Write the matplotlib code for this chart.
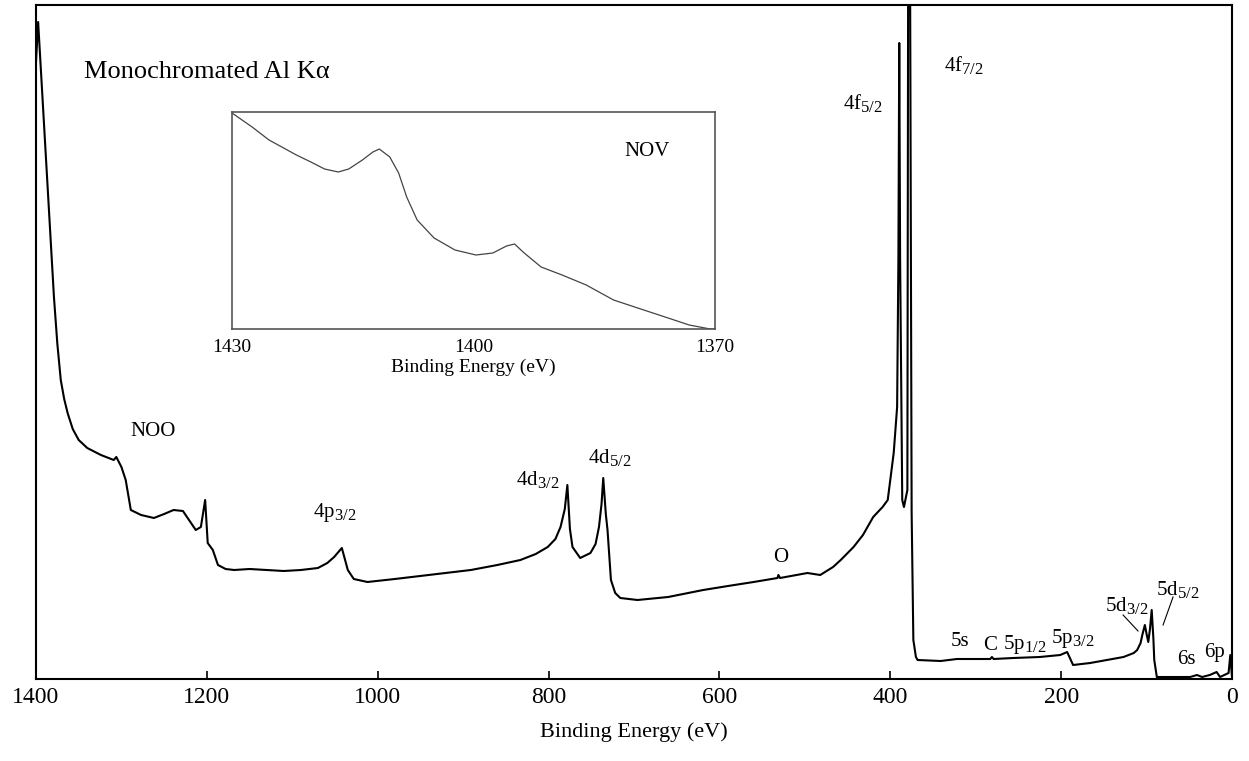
import matplotlib
matplotlib.use("Agg")
import matplotlib.pyplot as plt
import matplotlib._mathtext as _mt

plt.rcParams['font.family'] = ['Liberation Serif', 'DejaVu Serif']
plt.rcParams['mathtext.fontset'] = 'custom'
plt.rcParams['mathtext.rm'] = 'Liberation Serif'
plt.rcParams['mathtext.it'] = 'Liberation Serif:italic'
_mt.SHRINK_FACTOR = 0.8

# ---- main survey spectrum (binding energy eV, intensity arb. units) ----
energy = [1400, 1397.5, 1379, 1375, 1371, 1367, 1363, 1357, 1350, 1340, 1324, 1309, 1306,
          1300, 1295, 1289, 1277, 1262, 1250, 1239, 1228, 1213, 1207, 1202, 1199, 1193,
          1187, 1178, 1168, 1150, 1129, 1110, 1090, 1070, 1059, 1051, 1042, 1035, 1028,
          1012, 980, 950, 891, 860, 833, 815, 801, 792, 786, 781, 778, 775, 772, 763, 751,
          745, 741, 738, 736, 733, 731, 727, 722, 716, 696, 660, 619, 590, 560, 532, 531,
          529, 497, 482, 467, 458, 443, 432, 420, 409, 403, 400, 396, 392, 390.5, 389.5,
          388.5, 386, 384, 380, 379, 377, 375, 373, 370, 368, 341, 322, 283, 281, 279,
          256, 225, 201, 193, 186, 166, 127, 115, 111, 107, 105, 102, 100, 98, 96, 94,
          92, 91, 88, 49, 41, 35, 26, 18, 14, 4, 2, 0]
intensity = [617, 657, 382, 335, 299, 280, 266, 250, 239, 231, 224, 219, 222,
             212, 199, 169, 164, 161, 165, 169, 168, 149, 152, 179, 136, 129,
             114, 110, 109, 110, 109, 108, 109, 111, 116, 122, 131, 109, 100,
             97, 100, 103, 109, 114, 119, 125, 132, 140, 152, 170, 194, 150, 132, 121, 126,
             135, 152, 175, 201, 165, 149, 99, 86, 81, 79, 82, 89, 93, 97, 101, 104,
             101, 106, 104, 112, 119, 132, 144, 162, 172, 179, 199, 226, 272, 420, 636,
             420, 179, 172, 189, 760, 760, 166, 39, 22, 19, 18, 20, 20, 22, 20,
             21, 22, 24, 27, 14, 16, 22, 26, 29, 36, 44, 54, 45, 37, 50, 69,
             40, 19, 2, 2, 4, 2, 4, 7, 2, 6, 24, 2]

# ---- inset: NOV Auger region ----
inset_energy = [1430, 1427.5, 1425.4, 1422.0, 1420.2, 1418.5, 1416.8, 1415.5, 1413.8,
                1412.5, 1411.7, 1410.4, 1409.3, 1408.3, 1407.0, 1404.9, 1402.3, 1399.7,
                1397.6, 1395.9, 1394.9, 1393.7, 1391.6, 1389.0, 1386.0, 1382.6, 1379.6,
                1376.2, 1373.2, 1370.6, 1370]
inset_intensity = [216, 202, 189, 174, 167, 160, 157, 160, 169,
                   177, 180, 172, 156, 132, 109, 91, 79, 74,
                   76, 83, 85, 76, 62, 54, 44, 29, 21,
                   12, 4, 0, 0]

main_ticks = [1400, 1200, 1000, 800, 600, 400, 200, 0]
inset_ticks = [1430, 1400, 1370]

# peak labels: (text, energy, intensity, ha)
labels = [
    ("NOO", 1262.6, 247, 'center'),
    (r"4p$_{\mathrm{3/2}}$", 1076, 167, 'left'),
    (r"4d$_{\mathrm{3/2}}$", 838.6, 199, 'left'),
    (r"4d$_{\mathrm{5/2}}$", 754.4, 222, 'left'),
    ("O", 528.7, 122, 'center'),
    (r"4f$_{\mathrm{5/2}}$", 455, 576, 'left'),
    (r"4f$_{\mathrm{7/2}}$", 336.8, 614, 'left'),
    ("5s", 318, 37, 'center'),
    ("C", 283, 33, 'center'),
    (r"5p$_{\mathrm{1/2}}$", 267.8, 34, 'left'),
    (r"5p$_{\mathrm{3/2}}$", 211.7, 41, 'left'),
    (r"5d$_{\mathrm{3/2}}$", 148.5, 74, 'left'),
    (r"5d$_{\mathrm{5/2}}$", 88.9, 89, 'left'),
    ("6s", 53.8, 19, 'center'),
    ("6p", 19.9, 27, 'center'),
]

W, H = 1249, 761
fig = plt.figure(figsize=(W / 100, H / 100), dpi=100)
ax = fig.add_axes([36 / W, 1 - 679 / H, (1232 - 36) / W, (679 - 5) / H])
ax.plot(energy, intensity, color='black', lw=1.5)
ax.set_xlim(1400, 0)
ax.set_ylim(0, 674)
ax.set_xticks(main_ticks)
ax.set_xticklabels([str(t) for t in main_ticks])
ax.set_yticks([])
ax.tick_params(axis='x', direction='in', length=6, width=1.2, labelsize=17, pad=6)
for s in ax.spines.values():
    s.set_linewidth(1.5)
ax.set_xlabel("Binding Energy (eV)", fontsize=16, labelpad=10)

for txt, e, i, ha in labels:
    ax.text(e, i, txt, ha=ha, va='center', fontsize=15)

# leader lines for 5d peaks
ax.plot([127.5, 110], [64, 48], color='black', lw=0.8)
ax.plot([69, 80.7], [82, 54], color='black', lw=0.8)

ax.text(1344, 607, "Monochromated Al K\u03b1", ha='left', va='center', fontsize=19)

# inset
axi = fig.add_axes([232 / W, 1 - 329 / H, (715 - 232) / W, (329 - 112) / H])
axi.plot(inset_energy, inset_intensity, color='#444444', lw=0.9)
axi.set_xlim(1430, 1370)
axi.set_ylim(0, 217)
axi.set_xticks(inset_ticks)
axi.set_xticklabels([str(t) for t in inset_ticks])
axi.set_yticks([])
axi.tick_params(axis='x', length=0, labelsize=14, pad=7)
for s in axi.spines.values():
    s.set_linewidth(1.2)
    s.set_color('#555555')
axi.set_xlabel("Binding Energy (eV)", fontsize=14, labelpad=2)
axi.text(1378.5, 177, "NOV", ha='center', va='center', fontsize=15)

fig.savefig("out.png", dpi=100)
